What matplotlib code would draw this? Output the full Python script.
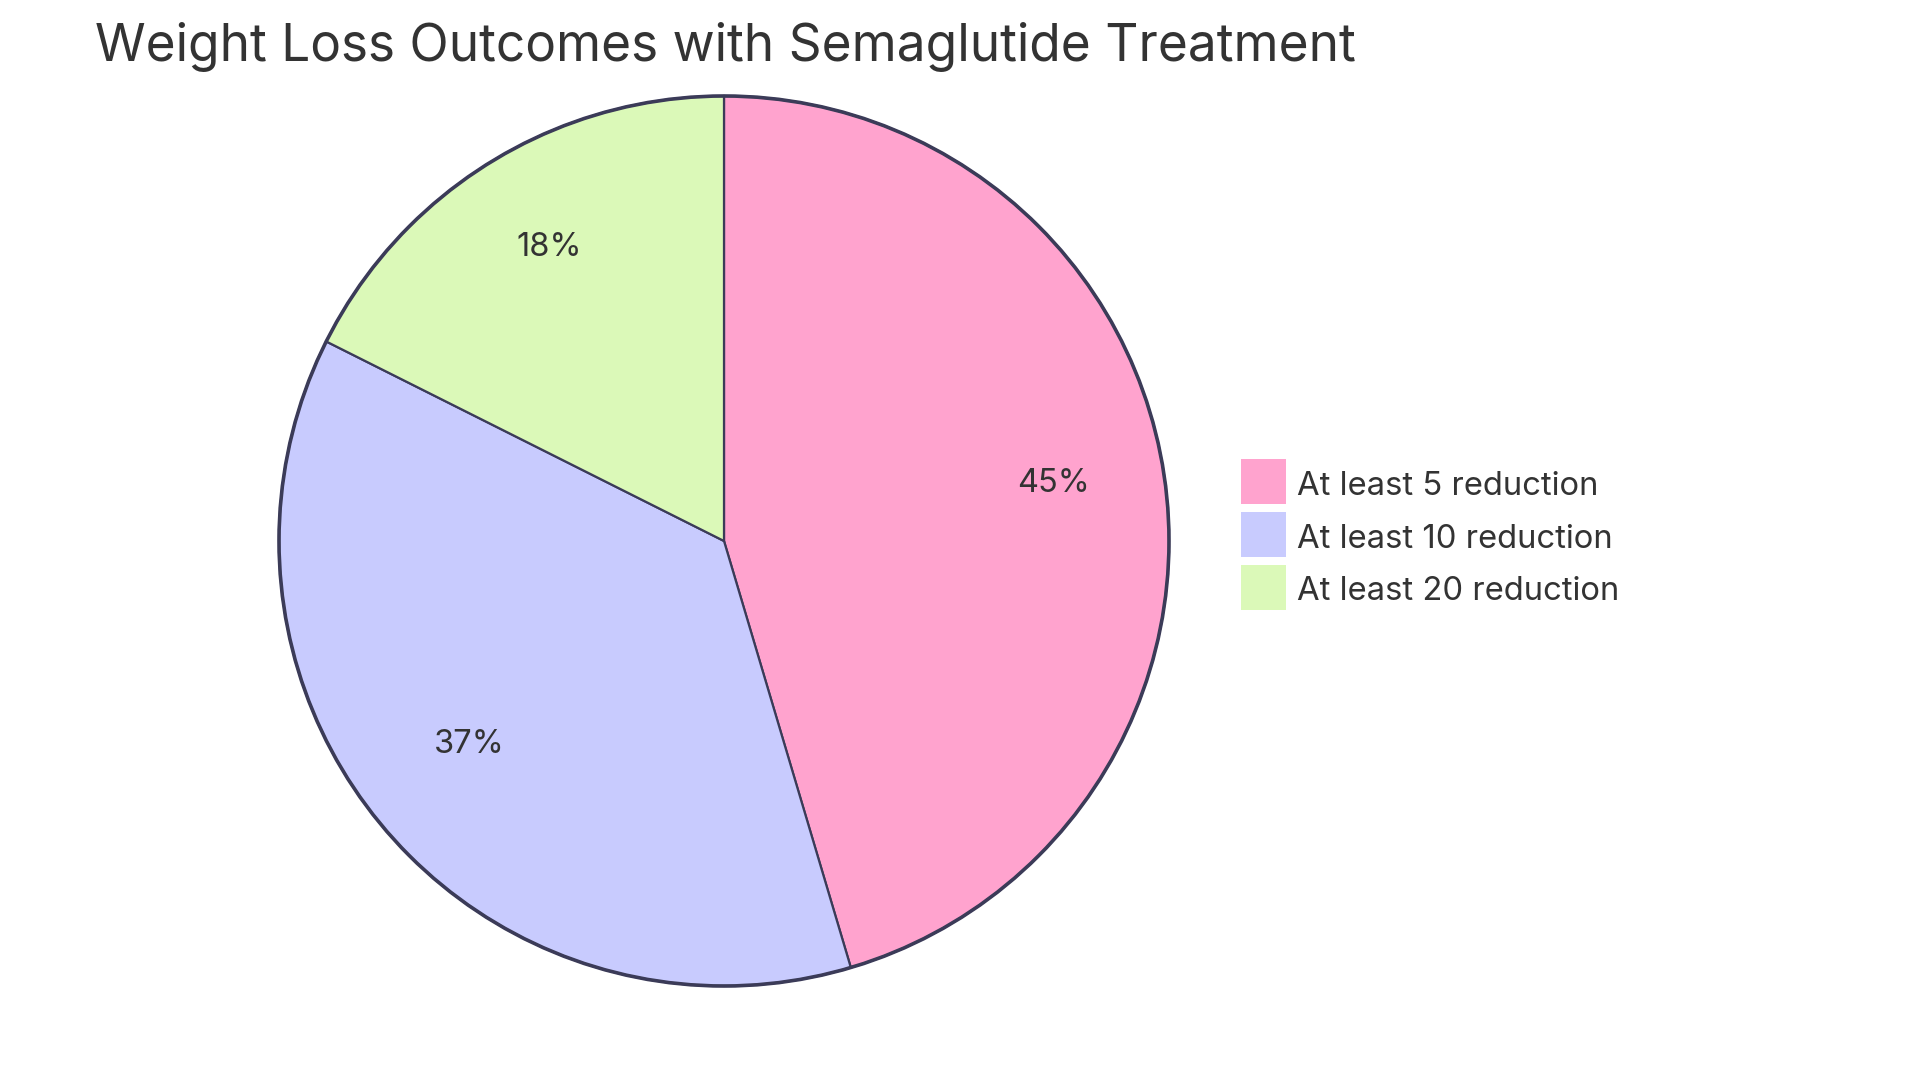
import matplotlib.pyplot as plt
from matplotlib.patches import Circle, Rectangle
from matplotlib.transforms import offset_copy

plt.rcParams["font.family"] = ["Inter", "DejaVu Sans"]

TITLE = "Weight Loss Outcomes with Semaglutide Treatment"
labels = ["At least 5 reduction", "At least 10 reduction", "At least 20 reduction"]
# shares (labels round to 45 / 37 / 18)
values = [45.4, 37.0, 17.6]
colors = ["#FFA3CE", "#C8CBFE", "#DBF9B8"]

EDGE = "#3b3b58"
TEXT = "#333333"

W, H = 1920, 1083
fig = plt.figure(figsize=(W / 100, H / 100), dpi=100)
fig.patch.set_facecolor("white")

cx, cy, r = 724, 541, 445
pad = 1.01
ax = fig.add_axes([(cx - r * pad) / W, (H - cy - r * pad) / H, 2 * r * pad / W, 2 * r * pad / H])
wedges, texts, autotexts = ax.pie(
    values,
    colors=colors,
    startangle=90,
    counterclock=False,
    autopct="%1.0f%%",
    pctdistance=0.748,
    wedgeprops=dict(edgecolor=EDGE, linewidth=1.6),
    textprops=dict(color=TEXT, fontsize=23.5),
)
# labels sit a little higher than the pie's own centring
for t in autotexts:
    t.set_transform(offset_copy(ax.transData, fig=fig, x=0, y=10, units="dots"))
ax.add_patch(Circle((0, 0), 1, fill=False, edgecolor=EDGE, linewidth=2.6))
ax.set_xlim(-pad, pad)
ax.set_ylim(-pad, pad)
ax.set_aspect("equal")
ax.axis("off")

fig.text(95 / W, 1 - 61 / H, TITLE, fontsize=37, color=TEXT, va="baseline", ha="left")

# legend, drawn by hand
box, pitch = 45, 53
x0, y0 = 1241, 459
for i, (lab, col) in enumerate(zip(labels, colors)):
    yt = y0 + i * pitch
    fig.patches.append(Rectangle((x0 / W, 1 - (yt + box) / H), box / W, box / H,
                                 transform=fig.transFigure, facecolor=col, edgecolor="none"))
    fig.text(1297 / W, 1 - (yt + box / 2 + 1) / H, lab, fontsize=23.6, color=TEXT,
             va="center_baseline", ha="left")

fig.savefig("out.png", dpi=100)
